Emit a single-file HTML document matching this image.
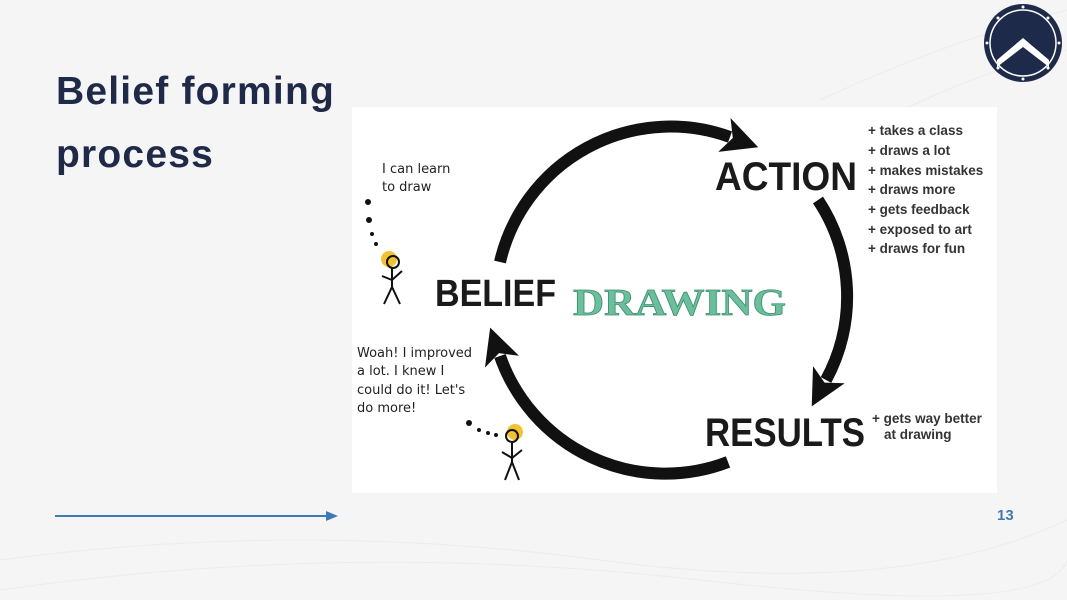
<!DOCTYPE html>
<html><head><meta charset="utf-8"><style>
html,body{margin:0;padding:0}
body{width:1067px;height:600px;background:#f5f5f6;position:relative;overflow:hidden;font-family:"Liberation Sans",sans-serif}
.t{position:absolute;left:56px;top:60px;font-size:39px;font-weight:bold;color:#1f2a48;line-height:63px;letter-spacing:1.2px}
.img{position:absolute;left:352px;top:107px;width:645px;height:386px;background:#fff}
.pg{position:absolute;left:997px;top:507px;font-size:15px;font-weight:bold;color:#3f7ab5}
</style></head><body>
<svg width="1067" height="600" style="position:absolute;left:0;top:0">
<g fill="none" stroke="#ececee" stroke-width="1">
<path d="M820 100 Q950 40 1067 10"/><path d="M860 130 Q980 70 1067 50"/>
<path d="M0 560 Q300 520 600 560 T1067 520"/><path d="M0 590 Q350 540 700 580 T1067 560"/>
</g>
</svg>
<div class="t">Belief forming<br>process</div>
<div class="img"></div>
<svg width="1067" height="600" style="position:absolute;left:0;top:0">
<defs>
<marker id="ah" markerUnits="userSpaceOnUse" markerWidth="44" markerHeight="44" refX="6" refY="18" orient="auto">
<path d="M0 0 L36 18 L0 36 L9 18 Z" fill="#111"/>
</marker>
</defs>
<g fill="none" stroke="#111" stroke-width="12">
<path d="M500 262 A175 175 0 0 1 730 137" marker-end="url(#ah)"/>
<path d="M818 200 A175 175 0 0 1 826 380" marker-end="url(#ah)"/>
<path d="M728 462 A175 175 0 0 1 500 356" marker-end="url(#ah)"/>
</g>
<g font-family="'Liberation Sans Narrow','Liberation Sans',sans-serif" font-weight="bold" fill="#1a1a1a">
<text x="715" y="190" font-size="40" textLength="142" lengthAdjust="spacingAndGlyphs">ACTION</text>
<text x="435" y="306" font-size="38" textLength="121" lengthAdjust="spacingAndGlyphs">BELIEF</text>
<text x="705" y="446" font-size="40" textLength="160" lengthAdjust="spacingAndGlyphs">RESULTS</text>
</g>
<text x="573" y="315" font-family="'Liberation Serif',serif" font-weight="bold" font-size="38" fill="#6bbf9d" stroke="#3f8f70" stroke-width="0.8" textLength="213" lengthAdjust="spacingAndGlyphs">DRAWING</text>
<g font-family="'Liberation Sans',sans-serif" font-size="13.5" font-weight="bold" fill="#333">
<text x="868" y="135">+ takes a class</text>
<text x="868" y="155">+ draws a lot</text>
<text x="868" y="175">+ makes mistakes</text>
<text x="868" y="194">+ draws more</text>
<text x="868" y="214">+ gets feedback</text>
<text x="868" y="234">+ exposed to art</text>
<text x="868" y="253">+ draws for fun</text>
<text x="872" y="423">+ gets way better</text>
<text x="884" y="439">at drawing</text>
</g>
<g font-family="'DejaVu Sans',sans-serif" font-size="13" fill="#222">
<text x="382" y="173">I can learn</text>
<text x="382" y="191">to draw</text>
<text x="357" y="357">Woah! I improved</text>
<text x="357" y="375">a lot. I knew I</text>
<text x="357" y="394">could do it! Let's</text>
<text x="357" y="412">do more!</text>
</g>
<g fill="#111"><circle cx="368" cy="202" r="3"/><circle cx="369" cy="220" r="3"/><circle cx="372" cy="234" r="2"/><circle cx="376" cy="244" r="2"/>
<circle cx="469" cy="423" r="3"/><circle cx="479" cy="430" r="2"/><circle cx="488" cy="433" r="2"/><circle cx="496" cy="435" r="2"/></g>
<g stroke="#111" stroke-width="2" fill="none">
<circle cx="389" cy="259" r="8" fill="#f2c230" stroke="none"/><circle cx="393" cy="262" r="6"/>
<path d="M392 268 L392 287 M382 276 L392 280 L402 271 M384 304 L392 287 L400 304"/>
<circle cx="515" cy="432" r="8" fill="#f2c230" stroke="none"/><circle cx="512" cy="436" r="6"/>
<path d="M512 442 L512 462 M502 452 L512 458 L522 450 M505 480 L512 462 L519 480"/>
</g>
<line x1="55" y1="516" x2="330" y2="516" stroke="#3f7ab5" stroke-width="2"/>
<path d="M326 511 L338 516 L326 521 Z" fill="#3f7ab5"/>
<circle cx="1023" cy="43" r="39" fill="#1e2a4a"/>
<circle cx="1023" cy="43" r="33" fill="none" stroke="#fff" stroke-width="1.5"/>
<path d="M997 60 L1023 38 L1049 60 L1049 67 L1023 47 L997 67 Z" fill="#fff"/>
<g fill="#fff"><circle cx="1023" cy="7" r="1.5"/><circle cx="1023" cy="79" r="1.5"/><circle cx="987" cy="43" r="1.5"/><circle cx="1059" cy="43" r="1.5"/><circle cx="998" cy="18" r="1.5"/><circle cx="1048" cy="18" r="1.5"/><circle cx="998" cy="68" r="1.5"/><circle cx="1048" cy="68" r="1.5"/></g>
</svg>
<div class="pg">13</div>
</body></html>
